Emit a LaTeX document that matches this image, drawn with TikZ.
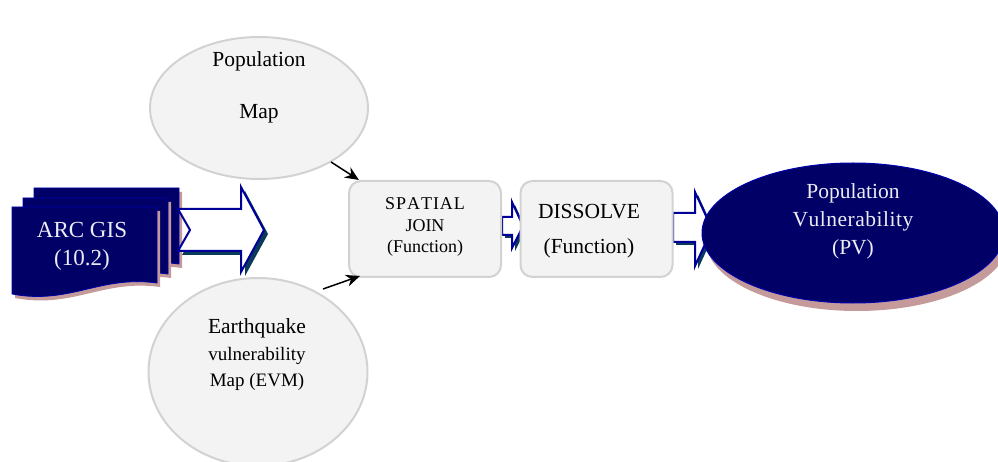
\documentclass[tikz,border=0pt]{standalone}
\usepackage{fontspec}
\setmainfont{Liberation Serif}
\usetikzlibrary{shapes.geometric,arrows.meta}
\definecolor{navy}{HTML}{000066}
\definecolor{navyline}{HTML}{0000AA}
\definecolor{arrline}{HTML}{000099}
\definecolor{pinkshadow}{HTML}{C49A9A}
\definecolor{tealshadow}{HTML}{0A3A5A}
\definecolor{boxfill}{HTML}{F3F3F3}
\definecolor{boxline}{HTML}{D2D2D2}
\definecolor{lighttext}{HTML}{ECECF4}
\tikzset{
  grayell/.style={ellipse, draw=boxline, fill=boxfill, line width=2pt, inner sep=0pt},
  funcbox/.style={rectangle, rounded corners=12pt, draw=boxline, fill=boxfill, line width=2pt, minimum width=152pt, minimum height=96pt, inner sep=0pt},
  doc/.style={fill=navy, draw=navyline, line width=0.8pt},
  docshadow/.style={fill=pinkshadow},
  hollow/.style={fill=white, draw=arrline, line width=2pt, line join=miter},
  hollowshadow/.style={fill=tealshadow},
  txt/.style={font=\fontsize{21.5}{24}\selectfont, align=center, inner sep=0pt},
  ptr/.style={-{Stealth[length=14pt,width=12pt]}, line width=1.5pt, black}
}
\begin{document}
\begin{tikzpicture}[x=1pt,y=-1pt]
\useasboundingbox (0,0) rectangle (998,462);
\clip (0,0) rectangle (998,462);
% gray ellipses
\node[grayell, minimum width=218pt, minimum height=142pt] (popmap) at (259,108) {};
\node[grayell, minimum width=219pt, minimum height=188pt] (evm) at (258,372) {};
\node[txt] (popmaptxt) at (259,87) {Population\\[28pt]Map};
\node[txt, align=center] (evmtxt) at (257,355) {Earthquake\\[3pt]{\fontsize{19}{22}\selectfont vulnerability}\\[2pt]{\fontsize{19}{22}\selectfont Map (EVM)}};
% stacked documents
\foreach \dx/\dy in {22/-19, 11/-9, 0/0}{
  \begin{scope}[shift={(\dx,\dy)}]
    \fill[docshadow] (15,211) -- (160,211) -- (160,287) .. controls (103,279) and (73,309) .. (15,298) -- cycle;
    \draw[doc] (12,207) -- (157,207) -- (157,283) .. controls (100,275) and (70,305) .. (12,294) -- cycle;
  \end{scope}
}
\node[txt, text=lighttext, font=\fontsize{23}{28}\selectfont] (arcgis) at (82,246) {ARC GIS\\(10.2)};
% big hollow arrow
\fill[hollowshadow] (182,213) -- (245,213) -- (245,191) -- (268,234) -- (245,276) -- (245,255) -- (182,255) -- (194,234) -- cycle;
\draw[hollow] (178,209) -- (241,209) -- (241,187) -- (264,230) -- (241,272) -- (241,251) -- (178,251) -- (190,230) -- cycle;
% small hollow arrows
\fill[hollowshadow] (505,220) -- (515,220) -- (515,205) -- (526,229) -- (515,251) -- (515,238) -- (505,238) -- cycle;
\draw[hollow] (502,217) -- (512,217) -- (512,202) -- (523,226) -- (512,248) -- (512,235) -- (502,235) -- cycle;
\fill[hollowshadow] (676,216) -- (698,216) -- (698,195) -- (715,232) -- (698,269) -- (698,245) -- (676,245) -- cycle;
\draw[hollow] (673,213) -- (695,213) -- (695,192) -- (712,229) -- (695,266) -- (695,242) -- (673,242) -- cycle;
% function boxes
\node[funcbox] (sj) at (425,229) {};
\node[txt, font=\fontsize{18}{22}\selectfont] (sjtxt) at (425,227) {S\kern1pt P\kern1pt A\kern1pt T\kern1pt I\kern1pt A\kern1pt L\\JOIN\\[-1pt](Function)};
\node[funcbox] (dis) at (596.5,229) {};
\node[txt] (distxt) at (589,231) {DISSOLVE\\[11pt](Function)};
% PV ellipse
\fill[pinkshadow] (857,241) ellipse [x radius=151pt, y radius=70pt];
\node[ellipse, fill=navy, draw=navyline, line width=1pt, minimum width=302pt, minimum height=140pt, inner sep=0pt] (pv) at (853,233) {};
\node[txt, text=lighttext] (pvtxt) at (853,221) {Population\\[4pt]V\kern0.5pt u\kern0.5pt l\kern0.5pt n\kern0.5pt e\kern0.5pt r\kern0.5pt a\kern0.5pt b\kern0.5pt i\kern0.5pt l\kern0.5pt i\kern0.5pt t\kern0.5pt y\\[4pt](PV)};
% black pointers
\coordinate (p1s) at (331,162);
\coordinate (p1e) at (359,180);
\coordinate (p2s) at (323,289);
\coordinate (p2e) at (360,276);
\draw[ptr] (p1s) -- (p1e);
\draw[ptr] (p2s) -- (p2e);
\end{tikzpicture}
\end{document}
